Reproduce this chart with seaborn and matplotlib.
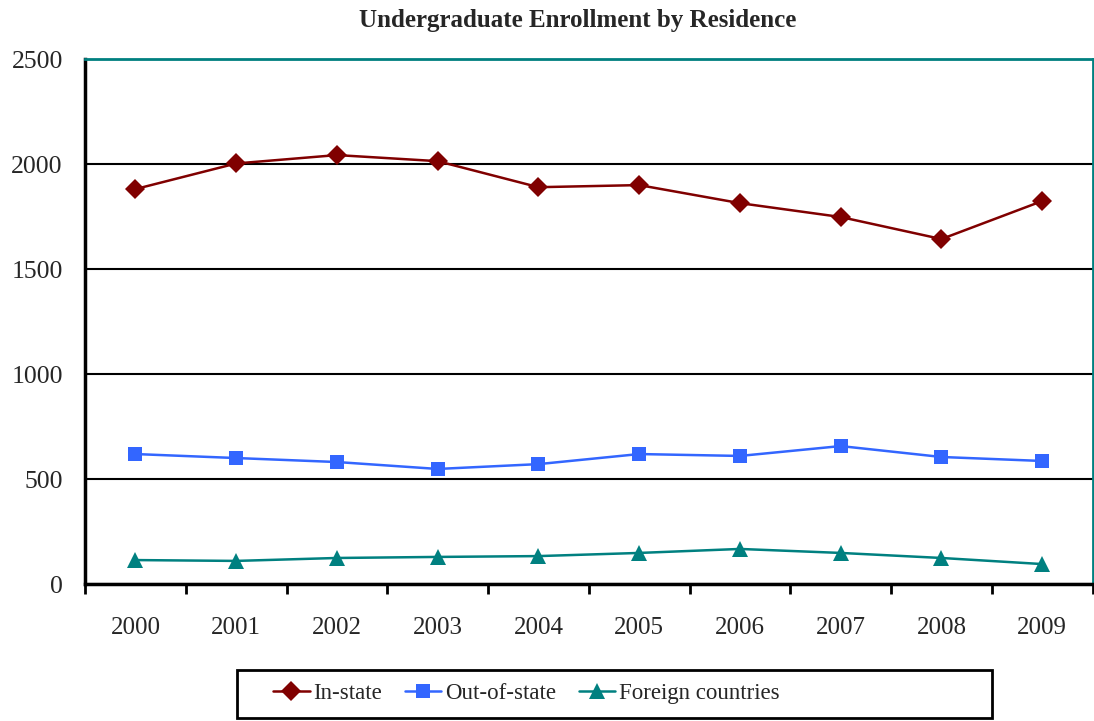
import matplotlib
matplotlib.use('Agg')
import matplotlib.pyplot as plt
from matplotlib.patches import Rectangle
import seaborn as sns
import pandas as pd
import numpy as np

years = [2000, 2001, 2002, 2003, 2004, 2005, 2006, 2007, 2008, 2009]
in_state = [1881, 2003, 2043, 2014, 1890, 1900, 1814, 1748, 1643, 1824]
out_of_state = [619, 600, 581, 548, 571, 619, 610, 657, 605, 586]
foreign = [114, 110, 124, 129, 133, 148, 167, 148, 124, 95]
series_names = ['In-state', 'Out-of-state', 'Foreign countries']

df = pd.DataFrame({
    'Year': years * 3,
    'Students': in_state + out_of_state + foreign,
    'Residence': np.repeat(series_names, len(years)),
})

sns.set_style('white')
plt.rcParams['font.family'] = ['Liberation Serif', 'DejaVu Serif']

colors = {'In-state': '#800000', 'Out-of-state': '#3366FF', 'Foreign countries': '#008080'}
markers = {'In-state': 'D', 'Out-of-state': 's', 'Foreign countries': '^'}
msizes = {'In-state': 10, 'Out-of-state': 10, 'Foreign countries': 11.5}

fig = plt.figure(figsize=(10.94, 7.21), dpi=100)
ax = fig.add_axes([0.0777, 0.19, 0.921, 0.728])

for name in series_names:
    sub = df[df['Residence'] == name]
    sns.lineplot(data=sub, x='Year', y='Students', color=colors[name], marker=markers[name],
                 markersize=msizes[name], markeredgewidth=0, linewidth=1.8, ax=ax, label=name,
                 legend=False)

ax.set_xlim(1999.5, 2009.5)
ax.set_ylim(0, 2500)
ax.set_yticks(range(0, 2501, 500))
ax.yaxis.grid(True, color='black', linewidth=1.5)
ax.set_axisbelow(True)

ax.set_xticks(np.arange(1999.5, 2010, 1))
ax.set_xticklabels([])
ax.set_xticks(years, minor=True)
ax.set_xticklabels([str(y) for y in years], minor=True)
ax.tick_params(axis='x', which='major', direction='out', length=7, width=2, color='black', bottom=True)
ax.tick_params(axis='x', which='minor', length=0, pad=24, labelsize=18)
ax.tick_params(axis='y', length=0, pad=16, labelsize=18.5)

ax.set_xlabel('')
ax.set_ylabel('')

for side in ['left', 'bottom']:
    ax.spines[side].set_color('black')
    ax.spines[side].set_linewidth(2.5)
for side in ['top', 'right']:
    ax.spines[side].set_color('#008080')
    ax.spines[side].set_linewidth(2)
    ax.spines[side].set_visible(True)

fig.text(0.528, 0.972, 'Undergraduate Enrollment by Residence', ha='center', va='center',
         fontsize=18, fontweight='bold')

handles = [plt.Line2D([], [], color=colors[n], marker=markers[n], markersize=msizes[n],
                      markeredgewidth=0, linewidth=1.8) for n in series_names]
leg = fig.legend(handles, series_names, loc='center left', bbox_to_anchor=(0.2495, 0.0375),
                 ncol=3, frameon=False, fontsize=16.5, handlelength=1.6,
                 handletextpad=0.15, columnspacing=1.0, borderpad=0, borderaxespad=0)
fig.patches.append(Rectangle((237 / 1094, 1 - 718 / 721), 755 / 1094, 48 / 721,
                             transform=fig.transFigure, fill=False, edgecolor='black',
                             linewidth=2))

fig.savefig('out.png', dpi=100)
